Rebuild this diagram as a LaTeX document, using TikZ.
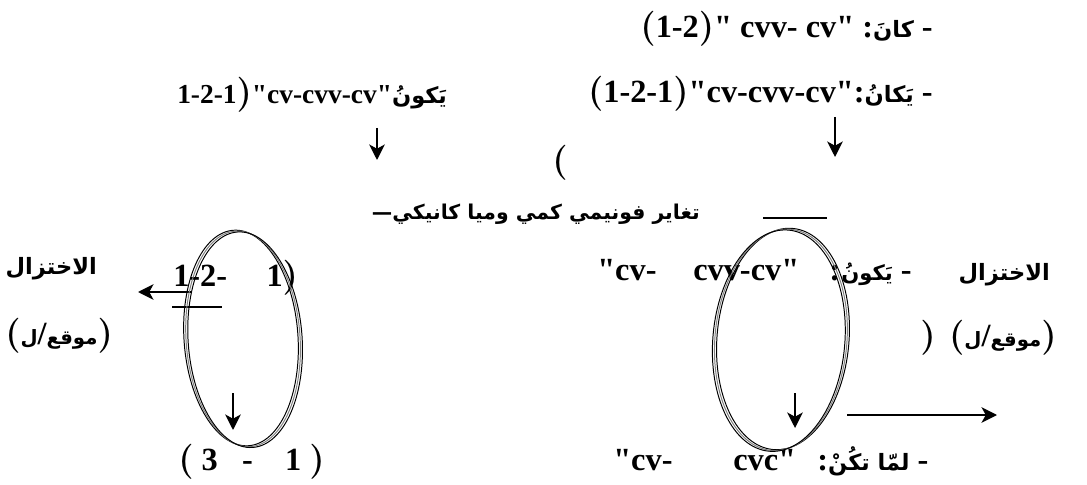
\documentclass[tikz,border=0pt]{standalone}
\usepackage{fontspec}
\setmainfont{Liberation Serif}[Ligatures=TeXOff]
\newfontfamily\arabicfont[Script=Arabic]{DejaVu Sans}
\TeXXeTstate=1
\usetikzlibrary{arrows.meta}

% una paraula àrab i una frase àrab
\newcommand{\ar}[2][16]{{\arabicfont\fontsize{#1}{#1}\selectfont\bfseries #2}}
\newcommand{\arfr}[2][16]{{\arabicfont\fontsize{#1}{#1}\selectfont\bfseries\beginR #2\endR}}
\newcommand{\pr}[1]{{\fontsize{28}{28}\selectfont\boldmath$#1$}}

\tikzset{
  txt/.style={inner sep=0pt, font=\fontsize{23}{26}\selectfont\bfseries},
  fl/.style={line width=1.5pt, -{Stealth[length=11pt,width=11pt,inset=3pt]}},
  anella/.style={line width=0.7pt}
}

\begin{document}
\begin{tikzpicture}[x=0.025cm,y=-0.025cm]
    \useasboundingbox (0,0) rectangle (1087,485);

    % Línies de dalt
    \node[txt, anchor=base east] (kana) at (933,38)
        {\pr{(}1-2\pr{)}" cvv- cv" :\ar{كانَ} -};
    \node[txt, anchor=base east] (yakanu) at (933,103)
        {\pr{(}1-2-1\pr{)}"cv-cvv-cv":\ar{يَكانُ} -};
    \node[txt, anchor=base west, font=\fontsize{19.5}{24}\selectfont\bfseries] (yakunu) at (177,104)
        {1-2-1\pr{)}"cv-cvv-cv"\ar{يَكونُ}};
    \node[txt, anchor=base west] (solt) at (552,172) {\pr{(}};
    \draw[fl] (377,128) -- (377,160);
    \draw[fl] (835,117) -- (835,157);

    % Títol del mig
    \node[txt, anchor=base east] (canvi) at (700,220)
        {\arfr[14.5]{تغاير فونيمي كمي وميا كانيكي—}};
    \draw[line width=0.8pt] (763,218) -- (827,218);

    % Banda esquerra
    \node[txt, anchor=base east] (ikhL) at (97,275) {\ar{الاختزال}};
    \node[txt, anchor=base west] (mawL) at (5,345) {\pr{(}\ar[14]{ل}/\ar[14]{موقع}\pr{)}};
    \node[txt, anchor=base west] (numL) at (173,287) {1-2-\hspace{28pt}1\pr{)}};
    \draw[fl] (192,292) -- (138,292);
    \draw[line width=0.8pt] (172,307) -- (222,307);
    \draw[fl] (233,393) -- (233,430);
    \node[txt, anchor=base west] (resL) at (178,470) {\pr{(}\ 3 \ \ - \ \ \ 1 \pr{)}};
    \foreach \d/\c in {0/black,2/gray,4/black}
        \draw[anella,\c,rotate around={4:(241,338)}] (241+\d,338+\d/2) ellipse [x radius=57, y radius=108];

    % Banda dreta
    \node[txt, anchor=base west] (cvA) at (597,280) {"cv-};
    \node[txt, anchor=base west] (cvvA) at (693,280) {cvv-cv"};
    \node[txt, anchor=base west] (dosp) at (829,280) {:};
    \node[txt, anchor=base east] (yakunuR) at (912,280) {\ar[15]{يَكونُ} -};
    \node[txt, anchor=base east] (ikhR) at (1050,280) {\ar{الاختزال}};
    \node[txt, anchor=base west] (tanca) at (920,347) {\pr{)}};
    \node[txt, anchor=base east] (mawR) at (1057,347) {\pr{(}\ar[14]{ل}/\ar[14]{موقع}\pr{)}};
    \draw[fl] (847,415) -- (997,415);
    \draw[fl] (795,393) -- (795,428);
    \node[txt, anchor=base west] (cvB) at (613,470) {"cv-};
    \node[txt, anchor=base west] (cvcB) at (733,470) {cvc"};
    \node[txt, anchor=base west] (lamma) at (817,470) {:\arfr{لمّا تكُنْ} -};
    \foreach \d/\c in {0/black,2/gray,4/black}
        \draw[anella,\c,rotate around={-5:(783,339)}] (783-\d,339+\d/2) ellipse [x radius=66, y radius=111];
\end{tikzpicture}
\end{document}
